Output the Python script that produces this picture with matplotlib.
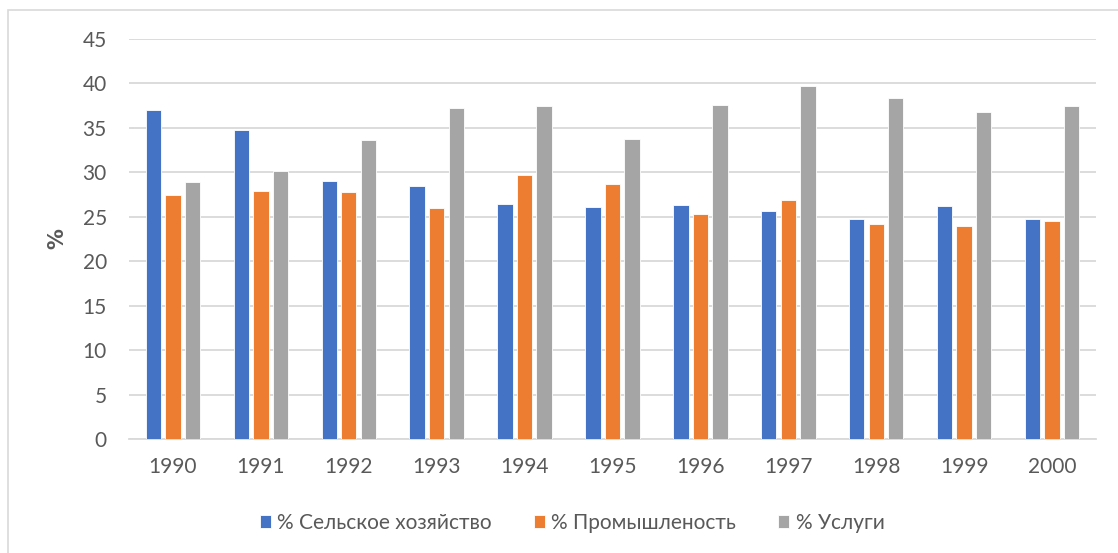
import numpy as np
import matplotlib.pyplot as plt
from matplotlib.patches import Rectangle

years = ['1990', '1991', '1992', '1993', '1994', '1995', '1996', '1997', '1998', '1999', '2000']
agri = [37.0, 34.8, 29.0, 28.5, 26.4, 26.1, 26.3, 25.7, 24.7, 26.2, 24.8]
industry = [27.5, 27.9, 27.8, 26.0, 29.7, 28.7, 25.3, 26.9, 24.2, 24.0, 24.5]
services = [28.9, 30.1, 33.6, 37.2, 37.5, 33.8, 37.6, 39.7, 38.4, 36.8, 37.5]
labels = ['% Сельское хозяйство', '% Промышленость', '% Услуги']
colors = ['#4472C4', '#ED7D31', '#A5A5A5']

plt.rcParams['font.family'] = ['Lato', 'DejaVu Sans']

fig = plt.figure(figsize=(11.18, 5.53), dpi=100)
ax = fig.add_axes([129 / 1118, 1 - 439 / 553, (1096 - 129) / 1118, 400 / 553])

# outer chart frame (only left/top visible in the original)
fig.patches.append(Rectangle((8 / 1118, -0.1), 1.2, 1.1 - 10 / 553, transform=fig.transFigure,
                             fill=False, edgecolor='#d9d9d9', linewidth=1.2))

x = np.arange(len(years))
w = 0.175
step = 0.222
for i, (vals, lab, c) in enumerate(zip([agri, industry, services], labels, colors)):
    ax.bar(x + (i - 1) * step, vals, width=w, color=c, edgecolor='white', linewidth=0.6,
           label=lab, zorder=3)

ax.set_xlim(-0.5, len(years) - 0.5)
ax.set_ylim(0, 45)
ax.set_yticks(range(0, 46, 5))
ax.set_xticks(x)
ax.set_xticklabels(years)
ax.grid(axis='y', color='#d9d9d9', linewidth=1.3, zorder=0)
for s in ['top', 'right', 'left']:
    ax.spines[s].set_visible(False)
ax.spines['bottom'].set_color('#d9d9d9')
ax.spines['bottom'].set_linewidth(1.3)
ax.tick_params(axis='both', length=0, labelsize=15, labelcolor='#595959')
ax.tick_params(axis='y', pad=16)
ax.tick_params(axis='x', pad=13)

fig.text(57 / 1118, 1 - 239 / 553, '%', rotation=90, ha='center', va='center',
         fontsize=15, fontweight='bold', color='#595959', family='DejaVu Sans')

fig.legend(loc='center', bbox_to_anchor=(572 / 1118, 1 - 523 / 553), ncol=3, frameon=False,
           fontsize=15, labelcolor='#595959', handlelength=0.55, handleheight=0.55,
           handletextpad=0.3, columnspacing=2.0)

plt.savefig('out.png', dpi=100)
